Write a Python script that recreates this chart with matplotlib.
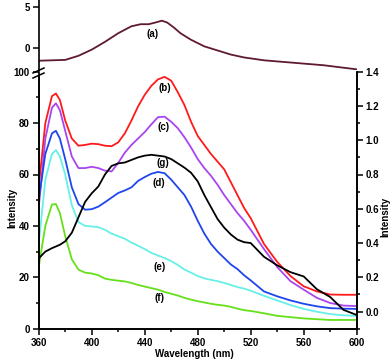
"""Fluorescence spectra (a)-(g) with broken left axis and twin right axis -> out.png"""

import matplotlib
matplotlib.use("Agg")
import matplotlib.pyplot as plt
from matplotlib.ticker import MultipleLocator, FormatStrFormatter
from matplotlib.lines import Line2D

plt.rcParams["font.family"] = ["Liberation Sans", "DejaVu Sans"]
plt.rcParams["font.weight"] = "bold"

# common wavelength grid for (b)-(g)
wl = [360, 365, 370, 373, 376, 380, 385, 390, 395, 400, 405, 410, 415, 420,
      425, 430, 435, 440, 445, 450, 455, 460, 465, 470, 475, 480, 485, 490,
      495, 500, 505, 510, 515, 520, 530, 540, 550, 560, 570, 580, 590, 600]

b = [55, 80, 90.5, 91.5, 89, 81, 74, 71.2, 71.5, 72, 71.8, 71.2, 71, 72.5,
     76, 81, 86.5, 91, 94.5, 97, 98, 96.5, 92, 87, 80.5, 75, 71.5, 68,
     65, 62, 57, 52, 47, 43, 33, 26, 20.5, 16.5, 14.5, 13.3, 13.2, 13.2]
c = [47, 74, 86, 87.7, 85, 77, 67, 62.5, 62.5, 63, 62.5, 61.5, 61.2, 64.5,
     68.5, 71.5, 74, 76.5, 79.5, 82.3, 82.5, 80.5, 78, 74.5, 70.5, 66, 62.5, 59.5,
     56, 52, 48.5, 45, 42, 38.5, 31, 24, 18.5, 15.2, 12, 10, 9, 8.8]
d = [50, 68, 76, 77, 74, 66, 55, 48.5, 46.3, 46.5, 47.5, 49.2, 51, 52.8,
     53.8, 55, 57.5, 59, 60.3, 61, 60.5, 58, 55, 52, 47.5, 42, 37, 33,
     30, 27.5, 25, 23.2, 20.8, 18.8, 14.5, 12.6, 11, 9.7, 8.7, 8, 7.8, 7.7]
e = [33, 58, 68, 69.5, 67, 60, 48, 41.5, 40, 39.8, 39.5, 38.5, 37, 36,
     35, 33.5, 32.3, 31, 29.5, 28.5, 27.5, 26.3, 24.8, 23, 21.8, 20.5, 19.6, 19,
     18.5, 17.8, 17, 16.2, 15.6, 14.8, 12.8, 11, 9.2, 7.7, 6.6, 5.7, 5.2, 5]
f = [24, 40, 48.3, 48.5, 45, 36, 27, 23, 21.8, 21.5, 20.8, 19.5, 19, 18.7,
     18.4, 17.8, 17, 16.4, 15.8, 15.2, 14.3, 13.6, 12.9, 12, 11.3, 10.7, 10.2, 9.7,
     9.3, 9, 8.5, 7.8, 7.2, 6.9, 6, 5, 4.5, 4, 3.7, 3.4, 3.4, 3.4]
# (g) is read on the right axis
g = [0.31, 0.35, 0.37, 0.38, 0.39, 0.41, 0.46, 0.55, 0.64, 0.69, 0.73, 0.8, 0.85, 0.865,
     0.87, 0.885, 0.9, 0.91, 0.915, 0.91, 0.905, 0.89, 0.865, 0.84, 0.81, 0.76, 0.68, 0.61,
     0.54, 0.49, 0.45, 0.42, 0.405, 0.4, 0.32, 0.27, 0.23, 0.205, 0.13, 0.085, 0.01, -0.02]

# (a) upper panel
wl_a = [360, 370, 380, 390, 400, 410, 420, 430, 437, 443, 448, 453, 457, 462,
        467, 475, 485, 495, 505, 515, 530, 545, 560, 575, 590, 600]
a = [-1.55, -1.5, -1.45, -0.95, -0.2, 0.75, 1.8, 2.65, 2.9, 2.9, 3.1, 3.33, 3.1, 2.5,
     1.8, 1.0, 0.2, -0.3, -0.8, -1.15, -1.5, -1.7, -1.9, -2.1, -2.4, -2.6]

RED, PURPLE, BLUE, CYAN, GREEN, BLACK, MAROON = (
    "#ff1a1a", "#aa44ee", "#1f45ee", "#66f0e8", "#66e01a", "#000000", "#5e1a2e")

W, H = 392, 361
L, R = 38.7 / W, 356.7 / W
fig = plt.figure(figsize=(W / 100, H / 100), dpi=100)
ax = fig.add_axes([L, (H - 328.7) / H, R - L, 257 / H])
ax2 = ax.twinx()
axa = fig.add_axes([L, (H - 70) / H, R - L, 70 / H])

tick_kw = dict(direction="out", labelsize=7, width=1.1, pad=2.5)
for axis in (ax, ax2, axa):
    for s in axis.spines.values():
        s.set_linewidth(1.2)
    axis.tick_params(which="major", length=4, **tick_kw)
    axis.tick_params(which="minor", length=2.5, width=1.1, direction="out")
    axis.set_xlim(360, 600)

lw = 1.3
ax.plot(wl, b, color=RED, lw=lw)
ax.plot(wl, c, color=PURPLE, lw=lw)
ax.plot(wl, d, color=BLUE, lw=lw)
ax.plot(wl, e, color=CYAN, lw=lw)
ax.plot(wl, f, color=GREEN, lw=lw)
ax2.plot(wl, g, color=BLACK, lw=lw)
axa.plot(wl_a, a, color=MAROON, lw=lw)

ax.set_ylim(0, 100)
ax.set_yticks([0, 20, 40, 60, 80, 100])
ax.yaxis.set_minor_locator(MultipleLocator(10))
ax.xaxis.set_major_locator(MultipleLocator(40))
ax.xaxis.set_minor_locator(MultipleLocator(20))
ax.spines["top"].set_visible(False)
ax.spines["left"].set_bounds(0, 98)
ax2.set_ylim(-0.1, 1.4)
ax2.set_yticks([0, 0.2, 0.4, 0.6, 0.8, 1.0, 1.2, 1.4])
ax2.yaxis.set_minor_locator(MultipleLocator(0.1))
ax2.yaxis.set_major_formatter(FormatStrFormatter("%.1f"))
ax2.spines["top"].set_visible(False)

axa.set_ylim(-2.68, 5.85)
axa.set_yticks([0, 5])
axa.set_xticks([])
for side in ("top", "right", "bottom"):
    axa.spines[side].set_visible(False)
axa.patch.set_alpha(0)

# axis break marks
for y0 in (68, 73):
    fig.add_artist(Line2D([33 / W, 44 / W], [(H - y0 - 5) / H, (H - y0) / H],
                          color="black", lw=1.1))

ax.set_xlabel("Wavelength (nm)", fontsize=7, fontweight="bold", va="center")
ax.set_ylabel("Intensity", fontsize=7, fontweight="bold", va="center")
ax2.set_ylabel("Intensity", fontsize=7, fontweight="bold", va="center")
ax.xaxis.set_label_coords(0.49, -0.097)
ax.yaxis.set_label_coords(-0.084, 0.47)
ax2.yaxis.set_label_coords(1.089, 0.435)

lab = dict(fontsize=7, fontweight="bold", ha="center", va="center")
axa.text(446, 1.7, "(a)", **lab)
ax.text(455, 93.5, "(b)", **lab)
ax.text(454, 78.6, "(c)", **lab)
ax.text(453.5, 64.3, "(g)", **lab)
ax.text(451, 56.8, "(d)", **lab)
ax.text(451, 23.9, "(e)", **lab)
ax.text(451, 11.8, "(f)", **lab)

fig.savefig("out.png", dpi=100)
